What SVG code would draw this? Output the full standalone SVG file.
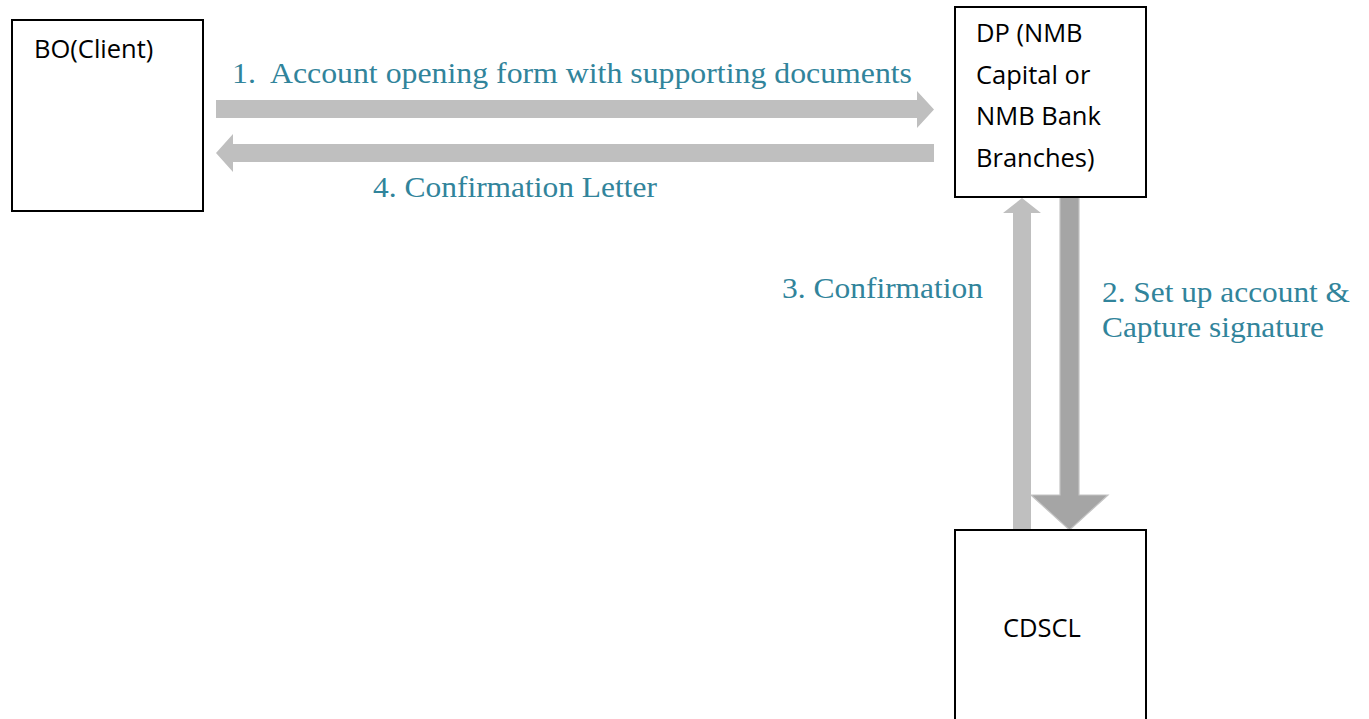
<svg xmlns="http://www.w3.org/2000/svg" width="1369" height="719" viewBox="0 0 1369 719">
<style>
.box{fill:#ffffff;stroke:#000000;stroke-width:2}
.nt{font-family:"Open Sans","Liberation Sans",sans-serif;font-size:25.5px;fill:#000000}
.lb{font-family:"Liberation Serif","DejaVu Serif",serif;font-size:29px;fill:#31849b}
.arL{fill:#bfbfbf}
.arD{fill:#a5a5a5;stroke:#c4c4c4;stroke-width:1.2}
</style>
<rect width="1369" height="719" fill="#ffffff"/>
<g id="connectors">
<polygon id="c1" class="arL" points="216,100 917,100 917,91 934,109.5 917,128 917,118 216,118"/>
<polygon id="c4" class="arL" points="934,144 233,144 233,134 216,153 233,172 233,162 934,162"/>
<polygon id="c3" class="arL" points="1013,531 1013,213 1003,213 1022,198 1041,213 1031,213 1031,531"/>
<polygon id="c2" class="arD" points="1060,194 1079,194 1079,495 1108,495 1069.5,530 1031,495 1060,495"/>
<text class="lb" x="232" y="83" textLength="680" lengthAdjust="spacingAndGlyphs" xml:space="preserve">1.  Account opening form with supporting documents</text>
<text class="lb" x="373" y="197" textLength="284" lengthAdjust="spacingAndGlyphs">4. Confirmation Letter</text>
<text class="lb" x="782" y="298" textLength="201" lengthAdjust="spacingAndGlyphs">3. Confirmation</text>
<text class="lb" x="1102" y="302" textLength="248" lengthAdjust="spacingAndGlyphs">2. Set up account &amp;</text>
<text class="lb" x="1102" y="337" textLength="222" lengthAdjust="spacingAndGlyphs">Capture signature</text>
</g>
<g id="bo">
<rect class="box" x="12" y="20" width="191" height="191"/>
<text class="nt" x="34" y="58">BO(Client)</text>
</g>
<g id="dp">
<rect class="box" x="955" y="7" width="191" height="190"/>
<text class="nt" x="976" y="42">DP (NMB</text>
<text class="nt" x="976" y="84">Capital or</text>
<text class="nt" x="976" y="125">NMB Bank</text>
<text class="nt" x="976" y="167">Branches)</text>
</g>
<g id="cdscl">
<rect class="box" x="955" y="530" width="191" height="200"/>
<text class="nt" x="1003" y="637">CDSCL</text>
</g>
</svg>
